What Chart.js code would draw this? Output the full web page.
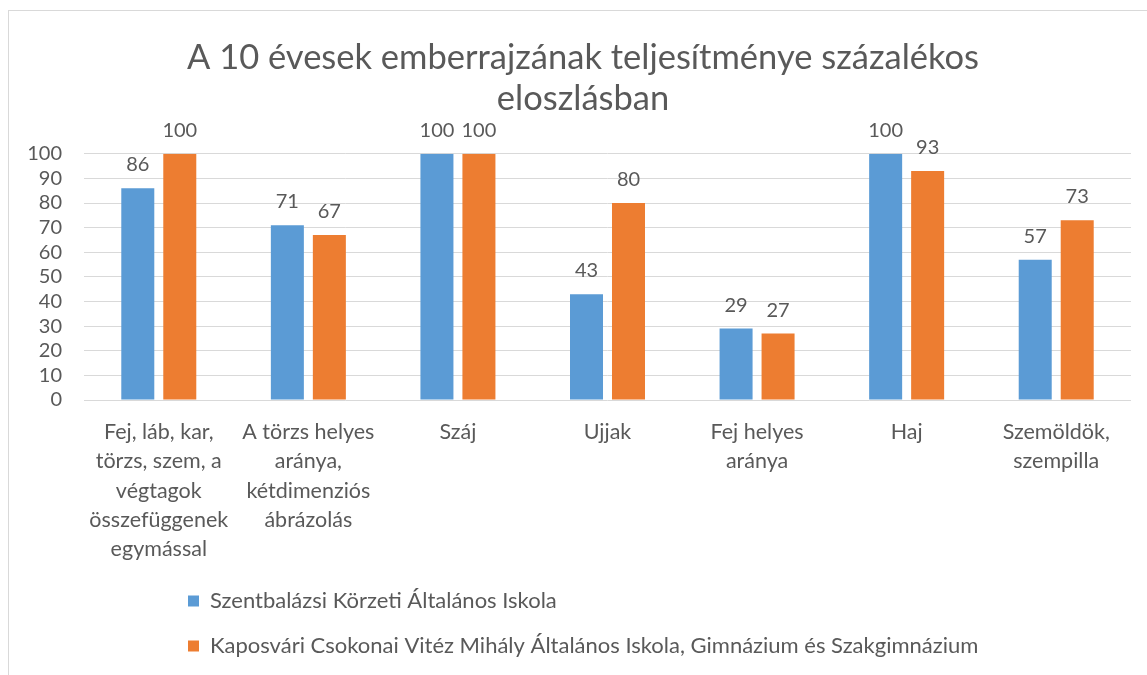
<!DOCTYPE html>
<html>
<head>
<meta charset="utf-8">
<script src="https://cdn.jsdelivr.net/npm/chart.js@4.4.1/dist/chart.umd.min.js"></script>
<style>
  html, body { margin: 0; padding: 0; background: #fff; overflow: hidden; }
  #wrap { position: relative; width: 1147px; height: 675px; }
</style>
</head>
<body>
<div id="wrap"><canvas id="chart"></canvas></div>
<script>
  /* ---- data ------------------------------------------------------ */
  const TITLE_LINES = ["A 10 évesek emberrajzának teljesítménye százalékos", "eloszlásban"];
  const CATEGORIES = [
    ["Fej, láb, kar,", "törzs, szem, a", "végtagok", "összefüggenek", "egymással"],
    ["A törzs helyes", "aránya,", "kétdimenziós", "ábrázolás"],
    "Száj",
    "Ujjak",
    ["Fej helyes", "aránya"],
    "Haj",
    ["Szemöldök,", "szempilla"]
  ];
  const SERIES_NAMES = [
    "Szentbalázsi Körzeti Általános Iskola",
    "Kaposvári Csokonai Vitéz Mihály Általános Iskola, Gimnázium és Szakgimnázium"
  ];
  const SZENTBALAZS = [86, 71, 100, 43, 29, 100, 57];
  const KAPOSVAR    = [100, 67, 100, 80, 27, 93, 73];
  const Y_MIN = 0, Y_MAX = 100, Y_STEP = 10;

  /* ---- colours --------------------------------------------------- */
  const C_BLUE   = "#5B9BD5";
  const C_ORANGE = "#ED7D31";
  const C_TEXT   = "#595959";
  const C_GRID   = "#D9D9D9";

  Chart.defaults.font.family = "Lato, 'Open Sans', sans-serif";
  Chart.defaults.color = C_TEXT;

  /* frame around the chart (runs off right and bottom like the original) */
  const framePlugin = {
    id: "frame",
    beforeDraw(chart) {
      const ctx = chart.ctx;
      ctx.save();
      ctx.fillStyle = "#fff";
      ctx.fillRect(0, 0, chart.width, chart.height);
      ctx.strokeStyle = C_GRID;
      ctx.lineWidth = 1;
      ctx.strokeRect(8.5, 10.5, chart.width + 20, chart.height + 20);
      ctx.restore();
    }
  };

  /* value labels above each bar */
  const valueLabels = {
    id: "valueLabels",
    afterDatasetsDraw(chart) {
      const ctx = chart.ctx;
      ctx.save();
      ctx.font = "20px " + Chart.defaults.font.family;
      ctx.fillStyle = C_TEXT;
      ctx.textAlign = "center";
      ctx.textBaseline = "alphabetic";
      chart.data.datasets.forEach((ds, i) => {
        chart.getDatasetMeta(i).data.forEach((bar, j) => {
          ctx.fillText(String(ds.data[j]), bar.x, bar.y - 17);
        });
      });
      ctx.restore();
    }
  };

  /* title centred on the (wider) original frame, legend under first category */
  const boxShift = {
    id: "boxShift",
    afterLayout(chart) {
      if (chart.titleBlock) chart.titleBlock.left = 35;
      if (chart.legend) chart.legend.left = 165;
    }
  };

  new Chart(document.getElementById("chart"), {
    type: "bar",
    data: {
      labels: CATEGORIES,
      datasets: [
        { label: SERIES_NAMES[0], data: SZENTBALAZS, backgroundColor: C_BLUE },
        { label: SERIES_NAMES[1], data: KAPOSVAR, backgroundColor: C_ORANGE }
      ]
    },
    options: {
      responsive: true,
      maintainAspectRatio: false,
      animation: false,
      categoryPercentage: 0.5615,
      barPercentage: 0.786,
      layout: { padding: { left: 0, right: 16, top: 0, bottom: 8 } },
      plugins: {
        title: {
          display: true,
          text: TITLE_LINES,
          color: C_TEXT,
          font: { size: 34.5, weight: "normal", lineHeight: 1.2 },
          padding: { top: 37, bottom: 34 }
        },
        legend: {
          position: "bottom",
          align: "start",
          labels: {
            boxWidth: 11,
            boxHeight: 11,
            padding: 23,
            color: C_TEXT,
            font: { size: 22 }
          }
        },
        tooltip: { enabled: true }
      },
      scales: {
        x: {
          grid: { display: false, drawTicks: false },
          border: { display: false },
          ticks: {
            color: C_TEXT,
            padding: 18,
            maxRotation: 0,
            autoSkip: false,
            font: { size: 21.5, lineHeight: 1.35 }
          },
          afterFit: (s) => { s.height = 167; }
        },
        y: {
          min: Y_MIN,
          max: Y_MAX,
          grid: { color: C_GRID, lineWidth: 1, drawTicks: false },
          border: { display: false },
          ticks: {
            stepSize: Y_STEP,
            autoSkip: false,
            color: C_TEXT,
            padding: 22,
            font: { size: 20 }
          },
          afterFit: (s) => { s.width = 84; }
        }
      }
    },
    plugins: [framePlugin, valueLabels, boxShift]
  });
</script>
</body>
</html>
